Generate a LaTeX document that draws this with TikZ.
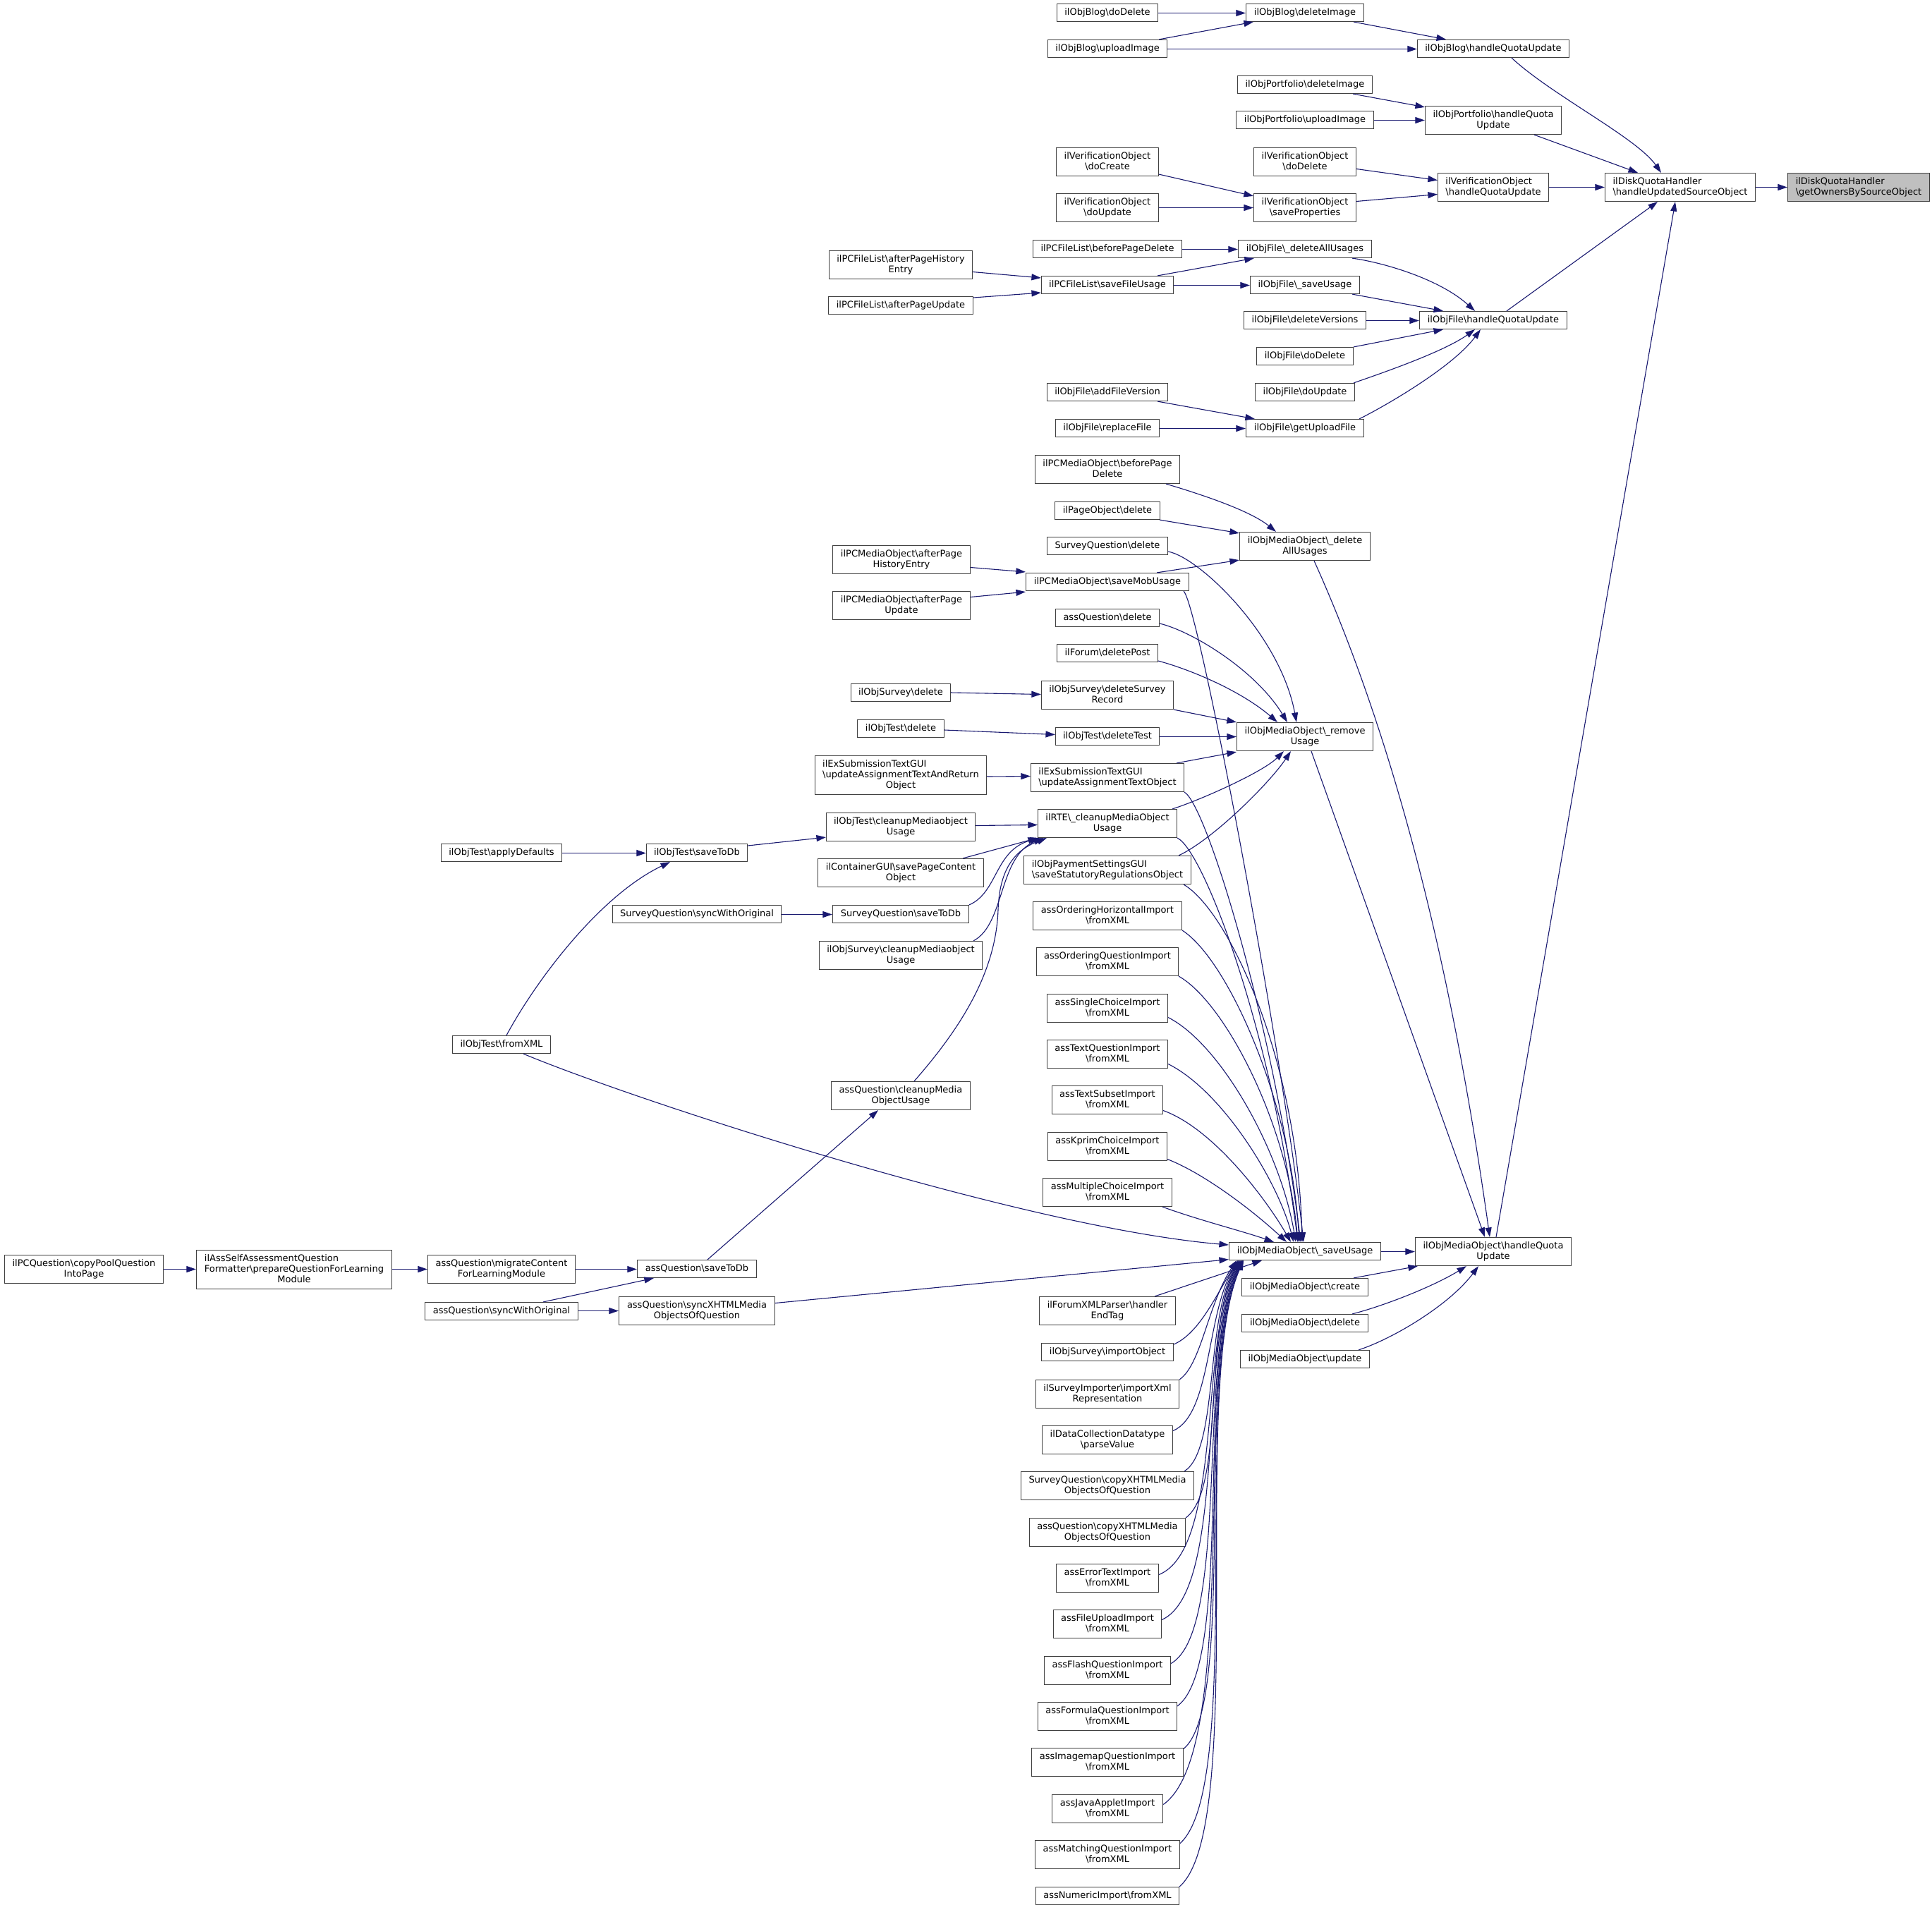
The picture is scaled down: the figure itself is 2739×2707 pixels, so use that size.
\documentclass[tikz,border=0pt]{standalone}
\usepackage{fontspec}
\newfontfamily\nodefont{DejaVu Sans}
\usetikzlibrary{arrows.meta}
\definecolor{edgec}{HTML}{191970}
\definecolor{nodeb}{HTML}{404040}
\definecolor{startfill}{HTML}{BFBFBF}
\newcommand\bs{\textbackslash}
\newsavebox\lbx
\newdimen\lbw
\newcommand\snapw[1]{\sbox\lbx{#1}\lbw=\dimexpr\wd\lbx+2pt\relax\divide\lbw by 131072 \multiply\lbw by 131072 \makebox[\lbw][c]{\usebox\lbx}}
\newcommand\labA[1]{\snapw{\begin{tabular}{@{}l@{}}#1\end{tabular}}}
\newcommand\labB[2]{\snapw{\begin{tabular}{@{}l@{}}#1\\\multicolumn{1}{@{}c@{}}{#2}\end{tabular}}}
\newcommand\labC[3]{\snapw{\begin{tabular}{@{}l@{}}#1\\#2\\\multicolumn{1}{@{}c@{}}{#3}\end{tabular}}}
\begin{document}
\begin{tikzpicture}[x=1pt,y=-1pt,
  box/.style={draw=nodeb,line width=1.2pt,fill=white,inner xsep=10.5pt,inner ysep=5pt,
    font={\nodefont\fontsize{13}{15}\selectfont}},
  edge/.style={draw=edgec,line width=1.1pt,-{Triangle[length=13.5pt,width=9pt]}}]
\fill[white] (0,0) rectangle (2739,2707);
\useasboundingbox (0,0) rectangle (2739,2707);
% ---- column 9 / 8
\node[box,fill=startfill] (gobs) at (2635,265.5) {\labB{ilDiskQuotaHandler}{\bs getOwnersBySourceObject}};
\node[box] (huso) at (2382,265.5) {\labB{ilDiskQuotaHandler}{\bs handleUpdatedSourceObject}};
% ---- column 7
\node[box] (bhqu) at (2117,69) {\labA{ilObjBlog\bs handleQuotaUpdate}};
\node[box] (phqu) at (2117,170.5) {\labB{ilObjPortfolio\bs handleQuota}{Update}};
\node[box] (vhqu) at (2117,265.5) {\labB{ilVerificationObject}{\bs handleQuotaUpdate}};
\node[box] (fhqu) at (2117,454) {\labA{ilObjFile\bs handleQuotaUpdate}};
\node[box] (mhqu) at (2117,1774.5) {\labB{ilObjMediaObject\bs handleQuota}{Update}};
% ---- column 6
\node[box] (bdi) at (1850,18) {\labA{ilObjBlog\bs deleteImage}};
\node[box] (pdi) at (1850,120) {\labA{ilObjPortfolio\bs deleteImage}};
\node[box] (pui) at (1850,170) {\labA{ilObjPortfolio\bs uploadImage}};
\node[box] (vdd) at (1850,229.5) {\labB{ilVerificationObject}{\bs doDelete}};
\node[box] (vsp) at (1850,294.5) {\labB{ilVerificationObject}{\bs saveProperties}};
\node[box] (fdau) at (1850,353) {\labA{ilObjFile\bs\_deleteAllUsages}};
\node[box] (fsu) at (1850,404) {\labA{ilObjFile\bs\_saveUsage}};
\node[box] (fdv) at (1850,454) {\labA{ilObjFile\bs deleteVersions}};
\node[box] (fdd) at (1850,505) {\labA{ilObjFile\bs doDelete}};
\node[box] (fdu) at (1850,556) {\labA{ilObjFile\bs doUpdate}};
\node[box] (fguf) at (1850,607) {\labA{ilObjFile\bs getUploadFile}};
\node[box] (mdau) at (1850,774.5) {\labB{ilObjMediaObject\bs\_delete}{AllUsages}};
\node[box] (mru) at (1850,1044.5) {\labB{ilObjMediaObject\bs\_remove}{Usage}};
\node[box] (msu) at (1850,1774) {\labA{ilObjMediaObject\bs\_saveUsage}};
\node[box] (mcr) at (1850,1825) {\labA{ilObjMediaObject\bs create}};
\node[box] (mdel) at (1850,1876) {\labA{ilObjMediaObject\bs delete}};
\node[box] (mupd) at (1850,1927) {\labA{ilObjMediaObject\bs update}};
% ---- column 5
\node[box] (bdd) at (1570,18) {\labA{ilObjBlog\bs doDelete}};
\node[box] (bui) at (1570,69) {\labA{ilObjBlog\bs uploadImage}};
\node[box] (vdc) at (1570,229.5) {\labB{ilVerificationObject}{\bs doCreate}};
\node[box] (vdup) at (1570,294.5) {\labB{ilVerificationObject}{\bs doUpdate}};
\node[box] (fbpd) at (1570,353) {\labA{ilPCFileList\bs beforePageDelete}};
\node[box] (fsfu) at (1570,404) {\labA{ilPCFileList\bs saveFileUsage}};
\node[box] (fafv) at (1570,556) {\labA{ilObjFile\bs addFileVersion}};
\node[box] (frf) at (1570,607) {\labA{ilObjFile\bs replaceFile}};
\node[box] (mbpd) at (1570,665.5) {\labB{ilPCMediaObject\bs beforePage}{Delete}};
\node[box] (pod) at (1570,724) {\labA{ilPageObject\bs delete}};
\node[box] (sqd) at (1570,774) {\labA{SurveyQuestion\bs delete}};
\node[box] (msmu) at (1570,825) {\labA{ilPCMediaObject\bs saveMobUsage}};
\node[box] (aqd) at (1570,876) {\labA{assQuestion\bs delete}};
\node[box] (fdp) at (1570,926) {\labA{ilForum\bs deletePost}};
\node[box] (osdsr) at (1570,985.5) {\labB{ilObjSurvey\bs deleteSurvey}{Record}};
\node[box] (otdt) at (1570,1044) {\labA{ilObjTest\bs deleteTest}};
\node[box] (exuat) at (1570,1102.5) {\labB{ilExSubmissionTextGUI}{\bs updateAssignmentTextObject}};
\node[box] (rte) at (1570,1167.5) {\labB{ilRTE\bs\_cleanupMediaObject}{Usage}};
\node[box] (pay) at (1570,1233.5) {\labB{ilObjPaymentSettingsGUI}{\bs saveStatutoryRegulationsObject}};
\node[box] (aohi) at (1570,1298.5) {\labB{assOrderingHorizontalImport}{\bs fromXML}};
\node[box] (aoqi) at (1570,1363.5) {\labB{assOrderingQuestionImport}{\bs fromXML}};
\node[box] (asci) at (1570,1429.5) {\labB{assSingleChoiceImport}{\bs fromXML}};
\node[box] (atqi) at (1570,1494.5) {\labB{assTextQuestionImport}{\bs fromXML}};
\node[box] (atsi) at (1570,1559.5) {\labB{assTextSubsetImport}{\bs fromXML}};
\node[box] (akci) at (1570,1625.5) {\labB{assKprimChoiceImport}{\bs fromXML}};
\node[box] (amci) at (1570,1690.5) {\labB{assMultipleChoiceImport}{\bs fromXML}};
\node[box] (fxp) at (1570,1858.5) {\labB{ilForumXMLParser\bs handler}{EndTag}};
\node[box] (osio) at (1570,1917) {\labA{ilObjSurvey\bs importObject}};
\node[box] (sixr) at (1570,1976.5) {\labB{ilSurveyImporter\bs importXml}{Representation}};
\node[box] (dcdp) at (1570,2041.5) {\labB{ilDataCollectionDatatype}{\bs parseValue}};
\node[box] (sqcx) at (1570,2106.5) {\labB{SurveyQuestion\bs copyXHTMLMedia}{ObjectsOfQuestion}};
\node[box] (aqcx) at (1570,2172.5) {\labB{assQuestion\bs copyXHTMLMedia}{ObjectsOfQuestion}};
\node[box] (aeti) at (1570,2237.5) {\labB{assErrorTextImport}{\bs fromXML}};
\node[box] (afui) at (1570,2302.5) {\labB{assFileUploadImport}{\bs fromXML}};
\node[box] (afqi) at (1570,2368.5) {\labB{assFlashQuestionImport}{\bs fromXML}};
\node[box] (afmi) at (1570,2433.5) {\labB{assFormulaQuestionImport}{\bs fromXML}};
\node[box] (aimi) at (1570,2498.5) {\labB{assImagemapQuestionImport}{\bs fromXML}};
\node[box] (ajai) at (1570,2564.5) {\labB{assJavaAppletImport}{\bs fromXML}};
\node[box] (amqi) at (1570,2629.5) {\labB{assMatchingQuestionImport}{\bs fromXML}};
\node[box] (anui) at (1570,2688) {\labA{assNumericImport\bs fromXML}};
% ---- column 4
\node[box] (fapeh) at (1277,375.5) {\labB{ilPCFileList\bs afterPageHistory}{Entry}};
\node[box] (fapu) at (1277,433) {\labA{ilPCFileList\bs afterPageUpdate}};
\node[box] (mapeh) at (1278,793.5) {\labB{ilPCMediaObject\bs afterPage}{HistoryEntry}};
\node[box] (mapu) at (1278,858.5) {\labB{ilPCMediaObject\bs afterPage}{Update}};
\node[box] (osd) at (1277,982) {\labA{ilObjSurvey\bs delete}};
\node[box] (otd) at (1277,1033) {\labA{ilObjTest\bs delete}};
\node[box] (exuatr) at (1277,1099) {\labC{ilExSubmissionTextGUI}{\bs updateAssignmentTextAndReturn}{Object}};
\node[box] (otcm) at (1277,1172.5) {\labB{ilObjTest\bs cleanupMediaobject}{Usage}};
\node[box] (cgui) at (1277,1237.5) {\labB{ilContainerGUI\bs savePageContent}{Object}};
\node[box] (sqstd) at (1277,1296) {\labA{SurveyQuestion\bs saveToDb}};
\node[box] (oscm) at (1277,1354.5) {\labB{ilObjSurvey\bs cleanupMediaobject}{Usage}};
\node[box] (aqcm) at (1277,1553.5) {\labB{assQuestion\bs cleanupMedia}{ObjectUsage}};
% ---- column 3
\node[box] (otstd) at (988,1209) {\labA{ilObjTest\bs saveToDb}};
\node[box] (sqswo) at (988,1296) {\labA{SurveyQuestion\bs syncWithOriginal}};
\node[box] (aqstd) at (988,1799) {\labA{assQuestion\bs saveToDb}};
\node[box] (aqsx) at (988,1858.5) {\labB{assQuestion\bs syncXHTMLMedia}{ObjectsOfQuestion}};
% ---- column 2
\node[box] (otad) at (711,1209) {\labA{ilObjTest\bs applyDefaults}};
\node[box] (otfx) at (711,1481) {\labA{ilObjTest\bs fromXML}};
\node[box] (aqmc) at (711,1799.5) {\labB{assQuestion\bs migrateContent}{ForLearningModule}};
\node[box] (aqswo) at (711,1859) {\labA{assQuestion\bs syncWithOriginal}};
% ---- column 1 / 0
\node[box] (asaq) at (417,1800) {\labC{ilAssSelfAssessmentQuestion}{Formatter\bs prepareQuestionForLearning}{Module}};
\node[box] (pcq) at (119,1799.5) {\labB{ilPCQuestion\bs copyPoolQuestion}{IntoPage}};

% ================= edges
\draw[edge] (huso.east) -- (gobs.west);
\draw[edge] ([xshift=26pt]bhqu.south) .. controls (2200,135) and (2320,195) .. ([xshift=-27pt]huso.north);
\draw[edge] ([xshift=58pt]phqu.south) -- ([xshift=-60pt]huso.north);
\draw[edge] (vhqu.east) -- (huso.west);
\draw[edge] ([xshift=19pt]fhqu.north) -- ([xshift=-32pt]huso.south);
\draw[edge] ([xshift=4pt]mhqu.north) -- ([xshift=-7pt]huso.south);
\draw[edge] ([xshift=-15pt]bdi.south east) -- ([xshift=-67pt]bhqu.north);
\draw[edge] ([yshift=-0.5pt]bui.east) -- ([yshift=-0.5pt]bhqu.west);
\draw[edge] ([yshift=-0.5pt]bdd.east) -- ([yshift=-0.5pt]bdi.west);
\draw[edge] ([xshift=-12pt]bui.north east) -- ([xshift=11pt]bdi.south west);
\draw[edge] ([xshift=-28pt]pdi.south east) -- ([yshift=-2pt]phqu.north west);
\draw[edge] ([yshift=-0.5pt]pui.east) -- (phqu.west);
\draw[edge] ([yshift=-10pt]vdd.east) -- ([yshift=10pt]vhqu.west);
\draw[edge] ([yshift=9pt]vsp.east) -- ([yshift=-10pt]vhqu.west);
\draw[edge] ([yshift=3pt]vdc.south east) -- ([yshift=-4pt]vsp.north west);
\draw[edge] (vdup.east) -- (vsp.west);
\draw[edge] ([xshift=-28pt]fdau.south east) .. controls (1960,372) and (2040,395) .. ([xshift=-26pt]fhqu.north);
\draw[edge] ([xshift=-11pt]fsu.south east) -- ([xshift=-71pt]fhqu.north);
\draw[edge] ([yshift=-0.5pt]fdv.east) -- ([yshift=-0.5pt]fhqu.west);
\draw[edge] (fdd.north east) -- ([xshift=-71pt]fhqu.south);
\draw[edge] ([xshift=-2pt]fdu.north east) .. controls (1950,532) and (2045,500) .. ([xshift=-26pt]fhqu.south);
\draw[edge] ([xshift=-7pt]fguf.north east) .. controls (1965,575) and (2060,520) .. ([xshift=-18pt]fhqu.south);
\draw[edge] ([yshift=-0.5pt]fbpd.east) -- ([yshift=-0.5pt]fdau.west);
\draw[edge] ([xshift=-23pt]fsfu.north east) -- ([xshift=23pt]fdau.south west);
\draw[edge] ([yshift=-0.5pt]fsfu.east) -- ([yshift=-0.5pt]fsu.west);
\draw[edge] ([yshift=-10pt]fapeh.east) -- ([yshift=10pt]fsfu.west);
\draw[edge] ([yshift=11pt]fapu.east) -- ([yshift=-11pt]fsfu.west);
\draw[edge] ([xshift=-15pt]fafv.south east) -- ([xshift=13pt]fguf.north west);
\draw[edge] ([yshift=-0.5pt]frf.east) -- ([yshift=-0.5pt]fguf.west);
\draw[edge] ([xshift=13pt]mdau.south) .. controls (1998,1094) and (2070,1454) .. ([xshift=-5pt]mhqu.north);
\draw[edge] ([xshift=9pt]mru.south) -- ([xshift=-12pt]mhqu.north);
\draw[edge] ([yshift=-0.5pt]msu.east) -- (mhqu.west);
\draw[edge] ([xshift=-21pt]mcr.north east) -- ([xshift=4pt]mhqu.south west);
\draw[edge] ([xshift=-23pt]mdel.north east) .. controls (1960,1852) and (2030,1825) .. ([xshift=-38pt]mhqu.south);
\draw[edge] ([xshift=-16pt]mupd.north east) .. controls (1975,1898) and (2055,1850) .. ([xshift=-21pt]mhqu.south);
\draw[edge] ([xshift=-20pt]mbpd.south east) .. controls (1690,697) and (1770,722) .. ([xshift=-41pt]mdau.north);
\draw[edge] ([xshift=-1pt]pod.south east) -- ([yshift=-2pt]mdau.north west);
\draw[edge] ([xshift=-46pt]msmu.north east) -- ([yshift=1pt]mdau.south west);
\draw[edge] ([yshift=-11pt]mapeh.east) -- ([yshift=1pt]msmu.north west);
\draw[edge] ([yshift=12pt]mapu.east) -- ([yshift=-1pt]msmu.south west);
\draw[edge] ([yshift=-8pt]sqd.east) .. controls (1700,790) and (1815,900) .. ([xshift=-12pt]mru.north);
\draw[edge] ([yshift=-8pt]aqd.east) .. controls (1690,895) and (1780,950) .. ([xshift=-25pt]mru.north);
\draw[edge] ([yshift=-11pt]fdp.east) .. controls (1690,950) and (1760,980) .. ([xshift=-39pt]mru.north);
\draw[edge] (osdsr.south east) -- (mru.north west);
\draw[edge] ([yshift=-0.5pt]otdt.east) -- (mru.west);
\draw[edge] ([xshift=-11pt]exuat.north east) -- ([yshift=-1pt]mru.south west);
\draw[edge] ([xshift=-7pt]rte.north east) .. controls (1700,1135) and (1790,1095) .. ([xshift=-30pt]mru.south);
\draw[edge] ([xshift=-18pt]pay.north east) .. controls (1720,1190) and (1800,1110) .. ([xshift=-20pt]mru.south);
\draw[edge] (osd.east) -- ([yshift=1pt]osdsr.west);
\draw[edge] ([yshift=-2pt]otd.east) -- ([yshift=2.5pt]otdt.west);
\draw[edge] ([yshift=-2pt]exuatr.east) -- ([yshift=2pt]exuat.west);
\draw[edge] ([yshift=2pt]otcm.east) -- ([yshift=-2pt]rte.west);
\draw[edge] ([xshift=-30pt]cgui.north east) -- (rte.south west);
\draw[edge] (sqstd.north east) .. controls (1415,1265) and (1410,1205) .. ([xshift=3pt]rte.south west);
\draw[edge] ([xshift=-13pt]oscm.north east) .. controls (1425,1310) and (1415,1215) .. ([xshift=8pt]rte.south west);
\draw[edge] ([xshift=19pt]aqcm.north) .. controls (1360,1460) and (1412,1380) .. (1415,1290) .. controls (1417,1230) and (1440,1205) .. ([xshift=13pt]rte.south west);
\draw[edge] ([yshift=10pt]otstd.east) -- ([yshift=6pt]otcm.south west);
\draw[edge] ([yshift=-0.5pt]otad.east) -- ([yshift=-0.5pt]otstd.west);
\draw[edge] ([xshift=7pt]otfx.north) .. controls (760,1390) and (850,1270) .. ([xshift=-38pt]otstd.south);
\draw[edge] ([yshift=-0.5pt]sqswo.east) -- ([yshift=-0.5pt]sqstd.west);
\draw[edge] ([xshift=15pt]aqstd.north) -- ([xshift=-32pt]aqcm.south);
\draw[edge] (aqmc.east) -- ([yshift=-0.5pt]aqstd.west);
\draw[edge] ([xshift=-50pt]aqswo.north east) -- ([xshift=24pt]aqstd.south west);
\draw[edge] ([yshift=0.5pt]aqswo.east) -- (aqsx.west);
\draw[edge] ([yshift=0.5pt]asaq.east) -- (aqmc.west);
\draw[edge] (pcq.east) -- ([yshift=0.5pt]asaq.west);
% ---- into ilObjMediaObject\_saveUsage from above
\draw[edge] ([xshift=-8pt]msmu.south east) .. controls (1700,860) and (1820,1500) .. ([xshift=-2pt]msu.north);
\draw[edge] (exuat.south east) .. controls (1710,1140) and (1805,1450) .. ([xshift=-6pt]msu.north);
\draw[edge] (rte.south east) .. controls (1705,1205) and (1800,1450) .. ([xshift=-10pt]msu.north);
\draw[edge] ([xshift=-11pt]pay.south east) .. controls (1740,1290) and (1840,1500) .. ([xshift=-4pt]msu.north);
\draw[edge] (aohi.south east) .. controls (1740,1360) and (1830,1560) .. ([xshift=-8pt]msu.north);
\draw[edge] (aoqi.south east) .. controls (1735,1420) and (1825,1590) .. ([xshift=-10pt]msu.north);
\draw[edge] ([yshift=-13pt]asci.east) .. controls (1730,1480) and (1815,1630) .. ([xshift=-13pt]msu.north);
\draw[edge] ([yshift=-14pt]atqi.east) .. controls (1730,1545) and (1810,1670) .. ([xshift=-16pt]msu.north);
\draw[edge] ([yshift=-15pt]atsi.east) .. controls (1720,1600) and (1795,1700) .. ([xshift=-20pt]msu.north);
\draw[edge] ([yshift=-18pt]akci.east) .. controls (1710,1665) and (1780,1720) .. ([xshift=-26pt]msu.north);
\draw[edge] ([xshift=-14pt]amci.south east) .. controls (1700,1730) and (1760,1745) .. ([xshift=-44pt]msu.north);
% ---- from the left
\draw[edge] ([xshift=31pt]otfx.south) .. controls (900,1560) and (1450,1740) .. ([yshift=9pt]msu.west);
\draw[edge] ([yshift=11pt]aqsx.east) -- ([yshift=1.5pt]msu.south west);
% ---- from below
\draw[edge] ([xshift=-30pt]fxp.north east) -- ([xshift=47pt]msu.south west);
\draw[edge] ([yshift=11pt]osio.east) .. controls (1700,1890) and (1722,1840) .. ([xshift=13pt]msu.south west);
\draw[edge] (sixr.north east) .. controls (1703,1935) and (1712,1850) .. ([xshift=11pt]msu.south west);
\draw[edge] ([yshift=13pt]dcdp.east) .. controls (1718,2005) and (1710,1860) .. ([xshift=14pt]msu.south west);
\draw[edge] ([xshift=-14pt]sqcx.north east) .. controls (1728,2055) and (1708,1870) .. ([xshift=15pt]msu.south west);
\draw[edge] (aqcx.north east) .. controls (1738,2110) and (1705,1880) .. ([xshift=16pt]msu.south west);
\draw[edge] ([yshift=5pt]aeti.east) .. controls (1735,2195) and (1700,1890) .. ([xshift=17pt]msu.south west);
\draw[edge] ([yshift=6pt]afui.east) .. controls (1740,2255) and (1698,1900) .. ([xshift=18pt]msu.south west);
\draw[edge] ([yshift=10pt]afqi.east) .. controls (1745,2310) and (1696,1910) .. ([xshift=19pt]msu.south west);
\draw[edge] ([yshift=-6pt]afmi.north east) .. controls (1750,2360) and (1694,1920) .. ([xshift=19pt]msu.south west);
\draw[edge] ([yshift=-1.5pt]aimi.north east) .. controls (1755,2415) and (1692,1930) .. ([xshift=20pt]msu.south west);
\draw[edge] ([yshift=6pt]ajai.east) .. controls (1760,2480) and (1690,1940) .. ([xshift=20pt]msu.south west);
\draw[edge] ([yshift=-4.5pt]amqi.north east) .. controls (1765,2530) and (1688,1950) .. ([xshift=21pt]msu.south west);
\draw[edge] (anui.north east) .. controls (1770,2590) and (1686,1960) .. ([xshift=21pt]msu.south west);
\end{tikzpicture}
\end{document}
